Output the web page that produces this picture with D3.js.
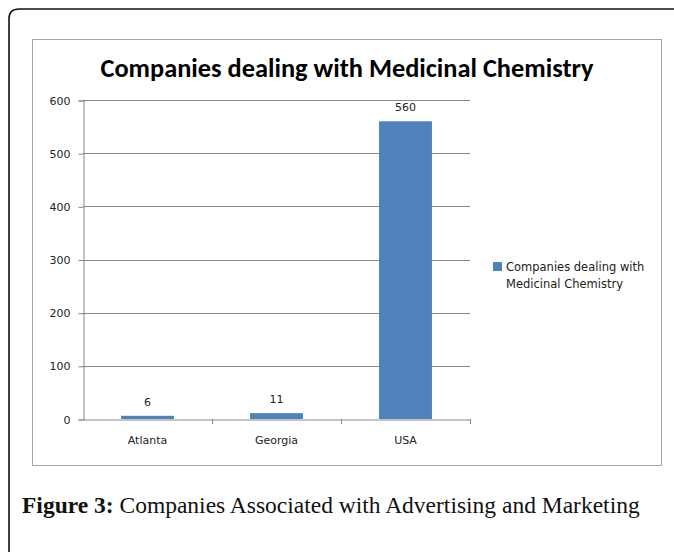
<!DOCTYPE html>
<html>
<head>
<meta charset="utf-8">
<script src="https://cdn.jsdelivr.net/npm/d3@7"></script>
<style>
  body { margin: 0; background: #fff; }
</style>
</head>
<body>
<div id="chart"></div>
<script>
// data
var categories = ["Atlanta", "Georgia", "USA"];
var values = [6, 11, 560];
var yTicks = [0, 100, 200, 300, 400, 500, 600];
var seriesName = "Companies dealing with Medicinal Chemistry";
var chartTitle = "Companies dealing with Medicinal Chemistry";

var W = 674, H = 552;

var svg = d3.select("#chart")
  .append("svg")
    .attr("width", W)
    .attr("height", H);

// outer figure frame, rounded top-left corner, open at right and bottom
svg.append("path")
  .attr("d", "M9,560 L9,19 Q9,9 19,9 L680,9")
  .attr("fill", "none")
  .attr("stroke", "#111")
  .attr("stroke-width", 1.6);

// chart frame
svg.append("rect")
  .attr("x", 32.5).attr("y", 39.5)
  .attr("width", 629).attr("height", 426)
  .attr("fill", "#fff")
  .attr("stroke", "#a6a6a6")
  .attr("stroke-width", 1);

// title
svg.append("text")
  .attr("x", 347)
  .attr("y", 77)
  .attr("text-anchor", "middle")
  .style("font-family", "Carlito, 'Open Sans', 'Noto Sans', sans-serif")
  .style("font-weight", "bold")
  .style("font-size", "26px")
  .attr("textLength", 493)
  .attr("lengthAdjust", "spacingAndGlyphs")
  .text(chartTitle);

// plot area
var margin = {left: 83, top: 100, right: 470, bottom: 419};

var x = d3.scaleBand()
  .domain(categories)
  .range([margin.left, margin.right])
  .paddingInner(0.59)
  .paddingOuter(0.295);

var y = d3.scaleLinear()
  .domain([0, 600])
  .range([margin.bottom, margin.top]);

var axisFont = "'DejaVu Sans', Verdana, sans-serif";

// gridlines
svg.append("g")
  .selectAll("line")
  .data(yTicks.filter(function(d) { return d > 0; }))
  .enter().append("line")
    .attr("x1", margin.left)
    .attr("x2", margin.right)
    .attr("y1", function(d) { return Math.round(y(d)) + 0.5; })
    .attr("y2", function(d) { return Math.round(y(d)) + 0.5; })
    .attr("stroke", "#878787")
    .attr("stroke-width", 1);

// bars
svg.append("g")
  .selectAll("rect")
  .data(values)
  .enter().append("rect")
    .attr("x", function(d, i) { return x(categories[i]); })
    .attr("y", function(d) { return y(d); })
    .attr("width", x.bandwidth())
    .attr("height", function(d) { return y(0) - y(d); })
    .attr("fill", "#4f81bd");

// value labels
svg.append("g")
  .selectAll("text")
  .data(values)
  .enter().append("text")
    .attr("x", function(d, i) { return x(categories[i]) + x.bandwidth() / 2; })
    .attr("y", function(d) { return y(d) - 10; })
    .attr("text-anchor", "middle")
    .style("font-family", axisFont)
    .style("font-size", "11px")
    .style("fill", "#222")
    .text(function(d) { return d; });

// y axis
var yAxis = svg.append("g")
  .attr("transform", "translate(" + (margin.left + 0.5) + ",0.5)")
  .call(d3.axisLeft(y).tickValues(yTicks).tickSize(5).tickPadding(8).tickFormat(d3.format("d")));
yAxis.select(".domain").attr("stroke", "#878787");
yAxis.selectAll(".tick line").attr("stroke", "#878787");
yAxis.selectAll(".tick text")
  .style("font-family", axisFont)
  .style("font-size", "11px")
  .attr("fill", "#222");

// x axis
var xAxis = svg.append("g")
  .attr("transform", "translate(0," + (margin.bottom + 0.5) + ")")
  .call(d3.axisBottom(x).tickSize(0).tickPadding(17));
xAxis.select(".domain").attr("stroke", "#878787");
xAxis.selectAll(".tick text")
  .style("font-family", axisFont)
  .style("font-size", "11px")
  .attr("fill", "#222");

// category separator ticks
var step = x.step();
svg.append("g")
  .selectAll("line")
  .data(categories)
  .enter().append("line")
    .attr("x1", function(d) { return Math.round(x(d) + x.bandwidth() / 2 + step / 2) + 0.5; })
    .attr("x2", function(d) { return Math.round(x(d) + x.bandwidth() / 2 + step / 2) + 0.5; })
    .attr("y1", margin.bottom)
    .attr("y2", margin.bottom + 5)
    .attr("stroke", "#878787");

// legend
var legend = svg.append("g").attr("transform", "translate(493,262)");
legend.append("rect")
  .attr("width", 9).attr("height", 9)
  .attr("fill", "#4f81bd");
legend.append("text")
  .attr("x", 13)
  .attr("y", 9)
  .style("font-family", axisFont)
  .style("font-size", "11.5px")
  .attr("fill", "#222")
  .selectAll("tspan")
  .data(["Companies dealing with", "Medicinal Chemistry"])
  .enter().append("tspan")
    .attr("x", 13)
    .attr("dy", function(d, i) { return i === 0 ? 0 : 17; })
    .text(function(d) { return d; });

// figure caption
var cap = svg.append("text")
  .attr("x", 22)
  .attr("y", 513)
  .style("font-family", "'Liberation Serif', 'DejaVu Serif', serif")
  .style("font-size", "23.5px")
  .attr("fill", "#111");
cap.append("tspan").style("font-weight", "bold").text("Figure 3:");
cap.append("tspan").text(" Companies Associated with Advertising and Marketing");
</script>
</body>
</html>
